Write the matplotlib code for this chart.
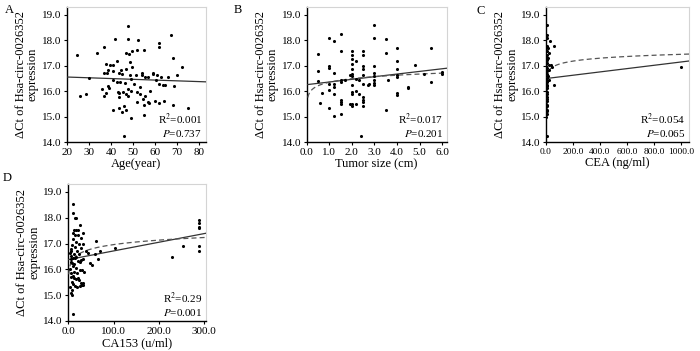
import numpy as np
import matplotlib
matplotlib.use("Agg")
import matplotlib.pyplot as plt
from matplotlib.ticker import FormatStrFormatter

plt.rcParams['font.family'] = ['Liberation Serif', 'DejaVu Serif']

# Panel A: age vs expression
A_age = [24.8, 26.0, 28.7, 30.0, 33.9, 36.9, 37.0, 38.1, 37.8, 38.9, 39.6, 40.8, 36.0, 36.9,
         38.9, 39.3, 37.6, 40.8, 42.0, 42.9, 43.5, 44.7, 41.1, 42.6, 44.1, 43.1, 43.8, 43.8,
         43.8, 44.9, 46.1, 46.7, 45.9, 45.6, 46.8, 47.6, 47.9, 46.7, 47.0, 47.9, 47.9, 48.1,
         48.7, 49.7, 48.7, 49.1, 49.0, 49.6, 51.2, 52.0, 52.1, 51.7, 52.0, 53.2, 53.9, 53.9,
         54.4, 55.0, 55.0, 55.0, 55.6, 55.7, 56.8, 56.7, 57.4, 58.9, 59.2, 60.0, 61.0, 61.8,
         61.9, 61.9, 61.9, 62.7, 63.7, 64.5, 64.0, 66.0, 67.1, 68.1, 68.4, 68.3, 70.1, 72.2,
         75.0, 45.0, 46.4, 50.5, 53.2, 57.7, 41.1, 60.6, 49.0]
A_expr = [17.43, 15.79, 15.90, 16.52, 17.51, 17.71, 16.71, 16.71, 17.08, 16.82, 17.01, 17.01,
          16.09, 15.79, 16.18, 16.10, 15.94, 15.27, 18.03, 17.17, 16.69, 16.82, 16.45, 16.36,
          16.35, 15.97, 15.91, 15.78, 15.35, 15.19, 15.42, 15.25, 14.22, 15.97, 15.87, 16.09,
          15.81, 16.88, 17.49, 18.56, 18.05, 17.45, 17.14, 16.96, 16.62, 16.49, 14.96, 17.56,
          16.62, 17.60, 18.00, 15.97, 15.58, 15.87, 16.70, 16.61, 15.70, 17.62, 15.45, 15.05,
          15.82, 16.55, 16.55, 15.57, 15.55, 16.71, 16.65, 15.61, 16.61, 15.52, 17.90, 17.74,
          16.26, 16.55, 16.23, 16.22, 15.61, 16.55, 18.18, 17.30, 16.18, 15.44, 16.64, 16.94,
          15.35, 16.65, 16.32, 16.26, 16.16, 16.00, 16.78, 16.45, 16.00]

# Panel B: tumor size vs expression
B_size = [0.5, 0.5, 0.5, 0.6, 0.7, 1.0, 1.0, 1.0, 1.0, 1.0, 1.0, 1.2, 1.2, 1.2, 1.2, 1.2, 1.2,
          1.5, 1.5, 1.5, 1.5, 1.5, 1.5, 1.5, 1.5, 1.7, 1.9, 1.9, 2.0, 2.0, 2.0, 2.0, 2.0, 2.0,
          2.0, 2.0, 2.0, 2.0, 2.0, 2.0, 2.2, 2.2, 2.2, 2.2, 2.3, 2.3, 2.4, 2.5, 2.5, 2.5, 2.5,
          2.5, 2.5, 2.5, 2.5, 2.5, 2.5, 2.7, 2.75, 3.0, 3.0, 3.0, 3.0, 3.0, 3.0, 3.0, 3.0, 3.5,
          3.5, 3.6, 3.5, 4.0, 4.0, 4.0, 4.0, 4.0, 4.0, 4.0, 4.5, 4.5, 4.8, 5.2, 5.5, 5.5, 6.0,
          6.0]
B_expr = [17.47, 16.78, 16.39, 15.52, 15.94, 18.08, 17.00, 16.91, 16.29, 16.03, 15.32, 17.97,
          16.69, 16.26, 16.16, 15.87, 15.01, 18.23, 17.56, 16.42, 16.36, 15.64, 15.57, 15.48,
          15.09, 16.42, 16.61, 15.50, 17.56, 17.43, 17.26, 17.06, 16.88, 16.65, 16.58, 16.22,
          15.97, 15.90, 15.48, 15.42, 17.19, 16.49, 16.00, 15.48, 16.45, 15.90, 14.25, 17.56,
          17.43, 17.00, 16.87, 16.62, 16.26, 15.77, 15.64, 15.58, 15.42, 16.22, 16.29, 18.60,
          18.08, 16.97, 16.71, 16.58, 16.45, 16.32, 16.23, 18.04, 17.48, 16.42, 15.25, 17.69,
          17.19, 16.87, 16.62, 16.56, 15.94, 15.84, 16.16, 16.10, 17.04, 16.65, 17.69, 16.35,
          16.74, 16.68]

# Panel C: CEA vs expression
C_cea = [5, 10, 10, 29, 5, 58, 14, 10, 24, 8, 14, 19, 36, 46, 24, 14, 19, 58, 5, 1000,
         2, 4, 6, 8, 3, 5, 7, 2, 4, 6, 8, 3, 5, 7, 2, 4, 6, 8, 3, 5, 7, 2, 4, 6, 8, 3, 5, 7,
         2, 4, 6, 8, 3]
C_expr = [18.60, 18.20, 18.08, 17.97, 17.75, 17.75, 17.69, 17.56, 17.49, 17.30, 17.28, 17.04,
          17.04, 16.96, 16.84, 16.58, 16.42, 16.22, 14.25, 16.93,
          17.60, 17.40, 17.20, 17.10, 17.00, 16.90, 16.80, 16.70, 16.65, 16.60, 16.50, 16.45,
          16.40, 16.35, 16.30, 16.25, 16.20, 16.10, 16.00, 15.95, 15.90, 15.80, 15.75, 15.70,
          15.60, 15.50, 15.45, 15.40, 15.30, 15.25, 15.20, 15.10, 15.00]

# Panel D: CA153 vs expression
D_ca153 = [9.6, 11, 14, 17, 25.7, 12.5, 17, 9.6, 14, 21, 22, 27, 32, 11, 18, 24, 33, 15, 27,
           61, 39, 43, 58, 70, 103, 7, 4, 5.5, 7, 8.5, 11, 15, 18, 22, 26, 29, 33, 48, 52, 66,
           26, 30, 35, 4, 7, 10, 13, 17, 21, 24, 27, 30, 33, 8, 11, 15, 20, 26, 32, 5, 8, 11,
           230, 254, 289, 289, 289, 289, 289, 289, 5, 9, 12, 6, 10, 13, 16, 19, 6, 3, 9, 12,
           20, 24]
D_expr = [18.53, 18.17, 18.00, 18.00, 17.72, 17.53, 17.53, 17.40, 17.35, 17.53, 17.33, 17.20,
          17.42, 17.17, 17.08, 17.00, 17.00, 16.88, 16.82, 17.09, 16.71, 16.62, 16.60, 16.71,
          16.82, 16.71, 16.65, 16.52, 16.39, 16.26, 16.13, 16.43, 16.49, 16.34, 16.27, 16.36,
          16.39, 16.24, 16.16, 16.39, 15.97, 15.97, 15.89, 16.00, 15.87, 15.74, 15.68, 15.61,
          15.68, 15.58, 15.48, 15.38, 15.46, 15.52, 15.45, 15.35, 15.32, 15.35, 15.38, 15.07,
          15.00, 14.27, 16.47, 16.91, 17.91, 17.81, 17.66, 17.59, 16.91, 16.73, 16.80, 16.95,
          16.60, 16.30, 16.45, 16.20, 16.05, 15.85, 15.70, 15.30, 15.20, 15.90, 16.70, 16.60]

# trend lines: linear (intercept, slope), log (a, b)
A_lin = (16.61, -0.003)
B_lin = (16.25, 0.104)
B_log = (16.345, 0.20)
C_lin = (16.49, 0.00065)
C_log = (16.298, 0.1655)
D_lin = (16.38, 0.00336)
D_log = (15.81, 0.25)

stats = {"A": ("0.001", "0.737"), "B": ("0.017", "0.201"),
         "C": ("0.054", "0.065"), "D": ("0.29", "0.001")}

YLABEL = "\u0394Ct of Hsa-circ-0026352\nexpression"

fig = plt.figure(figsize=(7, 3.51), dpi=100)


def make_axes(rect, xlim, xticks, xfmt, xlabel, xsize=8):
    ax = fig.add_axes(rect)
    ax.set_xlim(*xlim)
    ax.set_ylim(14.0, 19.31)
    ax.set_xticks(xticks)
    ax.set_yticks([14, 15, 16, 17, 18, 19])
    ax.xaxis.set_major_formatter(FormatStrFormatter(xfmt))
    ax.yaxis.set_major_formatter(FormatStrFormatter('%.1f'))
    ax.tick_params(direction='out', length=2.5, width=0.8, labelsize=8, pad=1.5)
    ax.tick_params(axis='x', labelsize=xsize)
    for s in ['left', 'bottom']:
        ax.spines[s].set_color('black')
        ax.spines[s].set_linewidth(1.0)
    for s in ['top', 'right']:
        ax.spines[s].set_color('#d4d4d4')
        ax.spines[s].set_linewidth(0.8)
    ax.set_xlabel(xlabel, fontsize=9, labelpad=1)
    ax.set_ylabel(YLABEL, fontsize=9, labelpad=2, linespacing=1.0)
    return ax


def add_stats(ax, key):
    r2, p = stats[key]
    ax.text(0.975, 0.165, "R$^2$=" + r2, transform=ax.transAxes, ha='right', va='center',
            fontsize=8, math_fontfamily='stix')
    ax.text(0.975, 0.06, "$P$=" + p, transform=ax.transAxes, ha='right', va='center',
            fontsize=8, math_fontfamily='stix')


def draw_lin(ax, coef, x0, x1):
    xs = np.array([x0, x1])
    ax.plot(xs, coef[0] + coef[1] * xs, color='#333333', lw=0.9, zorder=3)


def draw_log(ax, coef, x0, x1):
    xs = np.geomspace(x0, x1, 200)
    ax.plot(xs, coef[0] + coef[1] * np.log(xs), color='#555555', lw=0.9,
            ls=(0, (4, 2.5)), zorder=3)


# A
axA = make_axes([0.0953, 0.5954, 0.1986, 0.3856], (20, 83), [20, 30, 40, 50, 60, 70, 80],
                '%d', 'Age(year)')
axA.scatter(A_age, A_expr, s=5, color='black', linewidths=0, zorder=4)
draw_lin(axA, A_lin, 20, 83)
add_stats(axA, "A")

# B
axB = make_axes([0.4381, 0.5954, 0.2, 0.3856], (0, 6.2), [0, 1, 2, 3, 4, 5, 6],
                '%.1f', 'Tumor size (cm)')
axB.scatter(B_size, B_expr, s=5, color='black', linewidths=0, zorder=4)
draw_lin(axB, B_lin, 0, 6.2)
draw_log(axB, B_log, 0.05, 6.2)
add_stats(axB, "B")

# C
axC = make_axes([0.78, 0.5954, 0.2043, 0.3856], (0, 1059), [0, 200, 400, 600, 800, 1000],
                '%.1f', 'CEA (ng/ml)', xsize=6.8)
axC.scatter(C_cea, C_expr, s=5, color='black', linewidths=0, zorder=4)
draw_lin(axC, C_lin, 5, 1059)
draw_log(axC, C_log, 0.01, 1059)
add_stats(axC, "C")

# D
axD = make_axes([0.0976, 0.0855, 0.1967, 0.3903], (0, 304), [0, 100, 200, 300],
                '%.1f', 'CA153 (u/ml)')
axD.scatter(D_ca153, D_expr, s=5, color='black', linewidths=0, zorder=4)
draw_lin(axD, D_lin, 0, 304)
draw_log(axD, D_log, 1, 304)
add_stats(axD, "D")

for lab, (x, y) in {"A": (5, 10), "B": (234, 10), "C": (476, 11), "D": (3, 178)}.items():
    fig.text(x / 700, 1 - y / 351, lab, fontsize=9, ha='left', va='center')

fig.savefig("out.png", dpi=100)
